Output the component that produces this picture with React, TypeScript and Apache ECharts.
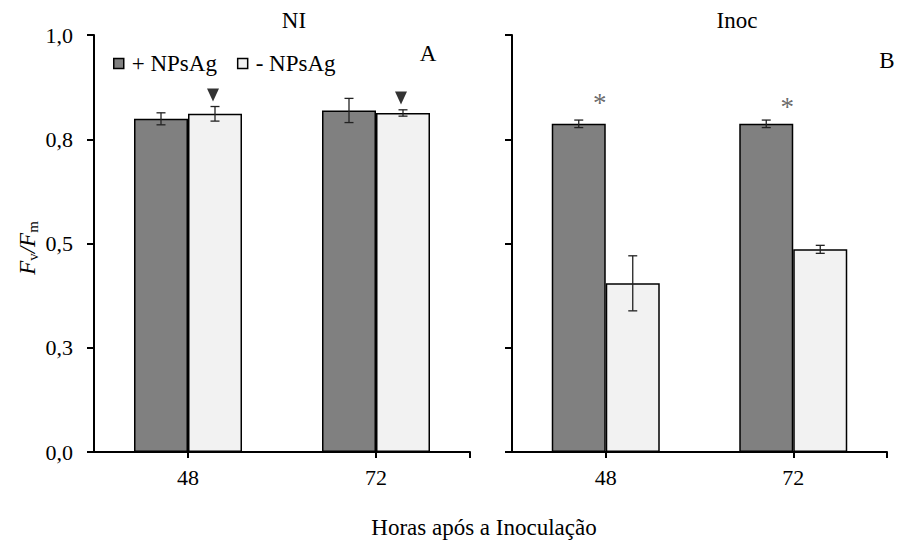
import React, { useEffect, useRef } from "react";
import * as echarts from "echarts";

const categories = ["48", "72"];
const seriesNames = ["+ NPsAg", "- NPsAg"];
const niWith = [0.799, 0.819];
const niWithErr = [0.0144, 0.029];
const niWithout = [0.811, 0.813];
const niWithoutErr = [0.0175, 0.0076];
const inocWith = [0.787, 0.787];
const inocWithErr = [0.009, 0.009];
const inocWithout = [0.4045, 0.486];
const inocWithoutErr = [0.066, 0.0096];
const yTickLabels = ["0,0", "0,3", "0,5", "0,8", "1,0"];
const yTickStep = 0.25;
const triangleY = [0.856, 0.849];
const asteriskY = [0.838, 0.828];
const panelTitles = ["NI", "Inoc"];
const panelLetters = ["A", "B"];
const xTitle = "Horas após a Inoculação";

const FONT = "Liberation Serif";
const DARK = "#808080";
const LIGHT = "#f2f2f2";
const BAR_W = 54;

function errData(vals: number[], errs: number[]) {
  return vals.map((v, i) => [i, v - errs[i], v + errs[i]]);
}

function errSeries(xi: number, yi: number, vals: number[], errs: number[], offset: number) {
  return {
    type: "custom",
    xAxisIndex: xi,
    yAxisIndex: yi,
    z: 10,
    silent: true,
    encode: { x: 0, y: [1, 2] },
    data: errData(vals, errs),
    renderItem: (params: any, api: any) => {
      const lo = api.coord([api.value(0), api.value(1)]);
      const hi = api.coord([api.value(0), api.value(2)]);
      const cx = lo[0] + offset;
      const cap = 4.5;
      const style = { stroke: "#222", lineWidth: 1.3 };
      return {
        type: "group",
        children: [
          { type: "line", shape: { x1: cx, y1: lo[1], x2: cx, y2: hi[1] }, style },
          { type: "line", shape: { x1: cx - cap, y1: hi[1], x2: cx + cap, y2: hi[1] }, style },
          { type: "line", shape: { x1: cx - cap, y1: lo[1], x2: cx + cap, y2: lo[1] }, style },
        ],
      };
    },
  };
}

function barSeries(name: string, xi: number, yi: number, data: number[], color: string) {
  return {
    type: "bar",
    name,
    xAxisIndex: xi,
    yAxisIndex: yi,
    data,
    barWidth: BAR_W,
    barGap: "0%",
    itemStyle: { color, borderColor: "#000", borderWidth: 1.5 },
  };
}

export default function App() {
  const ref = useRef<HTMLDivElement>(null);
  useEffect(() => {
    document.body.style.margin = "0";
    const chart = echarts.init(ref.current!, undefined, { renderer: "svg" });
    const catAxis = (gi: number, showLabel: boolean) => ({
      type: "category",
      gridIndex: gi,
      data: categories,
      position: "bottom",
      axisLine: { show: true, lineStyle: { color: "#000", width: 2 } },
      axisTick: { show: true, alignWithLabel: true, length: 6, lineStyle: { color: "#000", width: 2 } },
      axisLabel: { show: showLabel, color: "#000", fontFamily: FONT, fontSize: 22, margin: 14 },
    });
    const endTickAxis = (gi: number) => ({
      type: "value",
      gridIndex: gi,
      min: 0,
      max: 2,
      position: "bottom",
      axisLine: { show: false },
      splitLine: { show: false },
      axisLabel: { show: false },
      axisTick: { show: true, customValues: [2], length: 6, lineStyle: { color: "#000", width: 2 } },
    });
    const valAxis = (gi: number, showLabel: boolean) => ({
      type: "value",
      gridIndex: gi,
      min: 0,
      max: 1,
      interval: yTickStep,
      splitLine: { show: false },
      axisLine: { show: true, lineStyle: { color: "#000", width: 2 } },
      axisTick: { show: true, length: 7, lineStyle: { color: "#000", width: 2 } },
      axisLabel: {
        show: showLabel,
        color: "#000",
        fontFamily: FONT,
        fontSize: 22,
        margin: 21,
        formatter: (v: number) => yTickLabels[Math.round(v / yTickStep)] ?? "",
      },
    });
    const txt = (text: string, x: number, y: number) => ({
      type: "text",
      x,
      y,
      style: { text, fontFamily: FONT, fontSize: 23, fill: "#000", align: "center", verticalAlign: "middle" },
    });
    const option: any = {
      animation: false,
      backgroundColor: "#fff",
      textStyle: { fontFamily: FONT },
      grid: [
        { left: 94, top: 35, width: 376, height: 417 },
        { left: 512, top: 35, width: 375, height: 417 },
      ],
      xAxis: [catAxis(0, true), catAxis(1, true), endTickAxis(0), endTickAxis(1)],
      yAxis: [valAxis(0, true), valAxis(1, false)],
      legend: {
        left: 108,
        top: 47,
        data: seriesNames,
        icon: "rect",
        itemWidth: 10,
        itemHeight: 10,
        itemGap: 20,
        itemStyle: { borderColor: "#000", borderWidth: 1.5 },
        textStyle: { fontFamily: FONT, fontSize: 23, color: "#000", padding: [0, 0, 0, 3] },
      },
      series: [
        barSeries(seriesNames[0], 0, 0, niWith, DARK),
        barSeries(seriesNames[1], 0, 0, niWithout, LIGHT),
        barSeries(seriesNames[0], 1, 1, inocWith, DARK),
        barSeries(seriesNames[1], 1, 1, inocWithout, LIGHT),
        errSeries(0, 0, niWith, niWithErr, -BAR_W / 2),
        errSeries(0, 0, niWithout, niWithoutErr, BAR_W / 2),
        errSeries(1, 1, inocWith, inocWithErr, -BAR_W / 2),
        errSeries(1, 1, inocWithout, inocWithoutErr, BAR_W / 2),
        {
          type: "scatter",
          xAxisIndex: 0,
          yAxisIndex: 0,
          data: triangleY.map((v, i) => [i, v]),
          symbol: "triangle",
          symbolRotate: 180,
          symbolSize: [12, 13],
          symbolOffset: [BAR_W / 2 - 2, 0],
          itemStyle: { color: "#000" },
          z: 11,
          silent: true,
        },
        {
          type: "scatter",
          xAxisIndex: 1,
          yAxisIndex: 1,
          data: asteriskY.map((v, i) => [i, v]),
          symbol: "circle",
          symbolSize: 0,
          z: 11,
          silent: true,
          label: {
            show: true,
            position: "inside",
            offset: [-6, 0],
            formatter: "*",
            fontFamily: FONT,
            fontSize: 27,
            color: "#444",
          },
        },
      ],
      graphic: [
        txt(panelTitles[0], 294, 20),
        txt(panelTitles[1], 737, 20),
        txt(panelLetters[0], 428, 53),
        txt(panelLetters[1], 887, 60),
        txt(xTitle, 484, 527),
        {
          type: "text",
          x: 27,
          y: 248,
          rotation: Math.PI / 2,
          style: {
            text: "{f|F}{s|v}{f|/F}{s|m}",
            align: "center",
            verticalAlign: "middle",
            fill: "#000",
            rich: {
              f: { fontFamily: FONT, fontSize: 23, fontStyle: "italic", lineHeight: 26, verticalAlign: "middle" },
              s: { fontFamily: FONT, fontSize: 15, lineHeight: 14, verticalAlign: "bottom" },
            },
          },
        },
      ],
    };
    chart.setOption(option);
    return () => chart.dispose();
  }, []);
  return <div ref={ref} style={{ width: 900, height: 552 }} />;
}
